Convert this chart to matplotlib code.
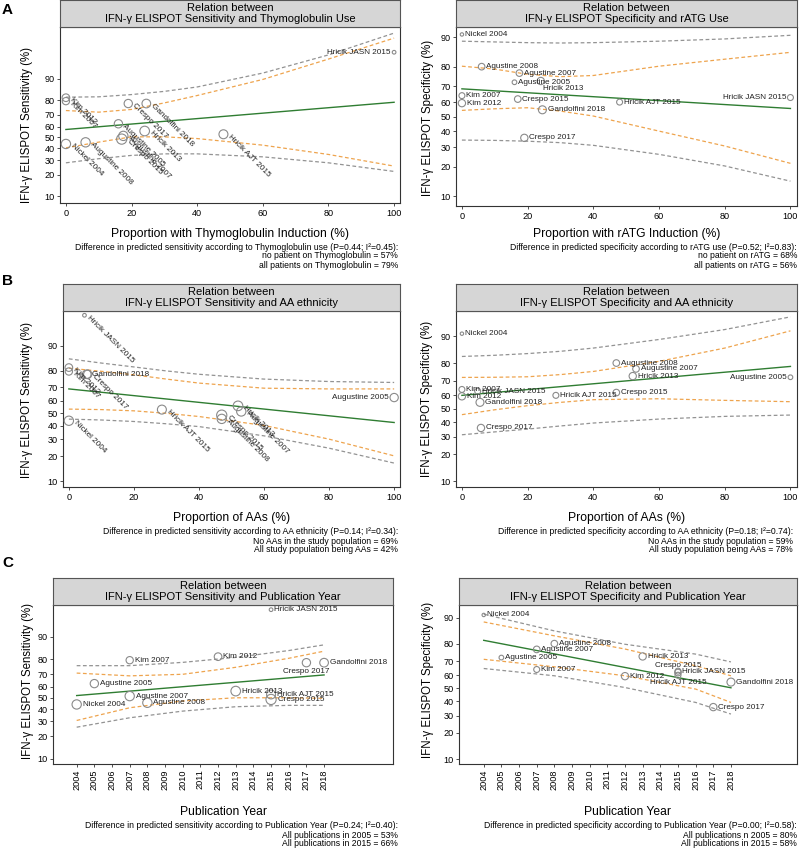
import numpy as np
import matplotlib.pyplot as plt

plt.rcParams['font.family'] = ['Liberation Sans', 'DejaVu Sans']

W, H = 800, 849

# study level data
studies = ['Nickel 2004', 'Augustine 2005', 'Kim 2007', 'Augustine 2007', 'Augustine 2008',
           'Kim 2012', 'Hricik 2013', 'Crespo 2015', 'Hricik JASN 2015', 'Hricik AJT 2015',
           'Crespo 2017', 'Gandolfini 2018']
years = [2004, 2005, 2007, 2007, 2008, 2012, 2013, 2015, 2015, 2015, 2017, 2018]
thymo_pct = [0, 16, 0, 17.5, 6, 0, 24, 17, 100, 48, 19, 24.5]
aa_pct = [0, 100, 0, 53, 47, 0, 52, 47, 4.8, 28.6, 5.8, 5.5]
sens = [44, 62.5, 79.5, 51.5, 45.5, 81.5, 56, 48.5, 96, 53, 78, 78]
spec = [90.7, 72.2, 64.2, 77, 80, 59.3, 72.9, 62, 63, 60, 35.8, 54.8]
sens_weight = [8.3, 6.6, 5.1, 8.3, 8.3, 5.6, 8.9, 10, 1.3, 7.7, 6.6, 7.2]
spec_weight = [1.1, 2.1, 3.4, 4.2, 4.2, 5.1, 5.1, 4.2, 3.4, 3.4, 5.1, 6.1]

# meta-regression fits, 95% CI (orange) and prediction interval (gray), in %
prop_x = [0, 10, 20, 30, 40, 60, 80, 100]
year_x = [2004, 2007, 2010, 2013, 2016, 2018]
year_x2 = [2004, 2008, 2012, 2016, 2018]

a1_fit = [57.4, 78.8]
a1_ci_hi = [73.2, 72.0, 74.0, 78.4, 82.7, 89.7, 94.9, 97.6]
a1_ci_lo = [40.5, 45.7, 50.6, 50.6, 49.0, 42.9, 34.7, 25.6]
a1_pi_hi = [81.8, 82.0, 83.2, 84.8, 86.8, 91.7, 95.6, 98.0]
a1_pi_lo = [28.0, 31.2, 33.9, 35.2, 35.2, 32.7, 28.0, 22.0]

a2_fit = [68.4, 55.7]
a2_ci_hi = [80.2, 78.9, 76.4, 75.2, 75.8, 80.2, 83.1, 85.6]
a2_ci_lo = [54.4, 55.5, 56.2, 53.9, 50.5, 40.2, 30.8, 21.6]
a2_pi_hi = [89.0, 88.8, 88.6, 88.5, 88.6, 89.0, 89.6, 90.5]
a2_pi_lo = [34.4, 34.2, 33.7, 32.8, 31.2, 26.1, 20.4, 14.4]

b1_fit = [68.8, 42.6]
b1_ci_hi = [81.2, 79.6, 77.7, 75.2, 72.7, 69.3, 68.8, 68.8]
b1_ci_lo = [53.4, 53.0, 52.0, 50.0, 47.4, 40.3, 30.2, 20.1]
b1_pi_hi = [85.4, 83.6, 81.8, 79.8, 78.0, 75.2, 73.7, 73.1]
b1_pi_lo = [45.3, 44.6, 43.4, 41.6, 39.4, 32.5, 24.4, 16.6]

b2_fit = [60.0, 78.3]
b2_ci_hi = [72.1, 72.2, 72.5, 73.8, 75.6, 80.8, 86.3, 91.4]
b2_ci_lo = [45.5, 49.2, 52.3, 54.8, 56.8, 57.5, 56.3, 55.3]
b2_pi_hi = [83.0, 83.5, 84.2, 85.1, 86.3, 89.1, 91.7, 94.2]
b2_pi_lo = [31.2, 33.1, 35.0, 37.2, 39.3, 42.2, 44.2, 45.2]

c1_fit = [52.0, 69.5]
c1_ci_hi = [70.9, 68.8, 70.0, 75.0, 80.6, 84.3]
c1_ci_lo = [30.6, 41.1, 47.1, 50.0, 50.0, 49.5]
c1_pi_hi = [76.1, 76.1, 78.2, 81.1, 84.6, 87.1]
c1_pi_lo = [25.7, 32.7, 38.2, 42.0, 43.2, 43.2]

c2_fit = [81.6, 50.4]
c2_ci_hi = [88.7, 83.6, 77.2, 66.8, 59.6]
c2_ci_lo = [71.1, 66.1, 59.6, 49.4, 39.2]
c2_pi_hi = [90.9, 85.6, 79.7, 74.3, 69.4]
c2_pi_lo = [64.9, 59.6, 50.6, 39.2, 31.0]

GREEN = '#2f7d32'
ORANGE = '#eea44e'
GRAY = '#939393'
MARK = '#8a8a8a'


def frac_box(x0, y0, x1, y1):
  return [x0 / W, 1 - y1 / H, (x1 - x0) / W, (y1 - y0) / H]


def panel(fig, p):
  x0, y0, x1, y1 = p['box']
  ax = fig.add_axes(frac_box(x0, y0, x1, y1))
  st = fig.add_axes(frac_box(x0, p['strip'], x1, y0))
  st.set_facecolor('#d6d6d6')
  st.set_xticks([]); st.set_yticks([])
  for s in st.spines.values():
    s.set_color('#555555'); s.set_linewidth(0.8)
  st.text(0.5, 0.5, p['title'], ha='center', va='center', fontsize=8.0,
          linespacing=1.05, transform=st.transAxes)

  ax.set_yscale('logit')
  bx = p['bx']
  ax.plot(bx, np.array(p['pi'][0]) / 100, color=GRAY, lw=0.9, ls=(0, (3, 2)))
  ax.plot(bx, np.array(p['pi'][1]) / 100, color=GRAY, lw=0.9, ls=(0, (3, 2)))
  ax.plot(bx, np.array(p['ci'][0]) / 100, color=ORANGE, lw=0.9, ls=(0, (3, 2)))
  ax.plot(bx, np.array(p['ci'][1]) / 100, color=ORANGE, lw=0.9, ls=(0, (3, 2)))
  ax.plot([bx[0], bx[-1]], np.array(p['fit']) / 100, color=GREEN, lw=1.0)

  xs, ys, ws = p['x'], np.array(p['y']) / 100, np.array(p['w'])
  sizes = 5.4 * ws
  ax.scatter(xs, ys, s=sizes, facecolors='none', edgecolors=MARK, linewidths=0.8, zorder=3)

  for name, xv, yv, s in zip(studies, xs, ys, sizes):
    label = name.replace('Augustine', p['spell'])
    r = np.sqrt(s) / 2
    pos = p['pos'].get(name, 3)
    kw = dict(fontsize=5.9, color='#222222', textcoords='offset points')
    if pos == 9:
      ax.annotate(label, (xv, yv), xytext=(-r - 1, 0), ha='right', va='center', **kw)
    elif pos == 6:
      ax.annotate(label, (xv, yv), xytext=(0, -r - 0.5), ha='center', va='top', **kw)
    elif pos == 12:
      ax.annotate(label, (xv, yv), xytext=(0, r + 0.5), ha='center', va='bottom', **kw)
    elif pos == 4:
      ax.annotate(label, (xv, yv), xytext=(r * 0.6, -r - 0.5), ha='left', va='top', **kw)
    elif p['tilt'] and pos != 'h':
      ax.annotate(label, (xv, yv), xytext=(r + 1, -1), ha='left', va='center',
                  rotation=-45, rotation_mode='anchor', **kw)
    else:
      ax.annotate(label, (xv, yv), xytext=(r + 1, 0), ha='left', va='center', **kw)

  ax.set_ylim(*p['ylim'])
  ax.set_xlim(*p['xlim'])
  yt = np.arange(10, 100, 10)
  ax.set_yticks(yt / 100)
  ax.set_yticklabels([str(v) for v in yt])
  ax.yaxis.set_minor_locator(plt.NullLocator())
  ax.set_xticks(p['xt'])
  if p['xt'][0] > 1000:
    ax.set_xticklabels([str(v) for v in p['xt']], rotation=90)
  else:
    ax.set_xticklabels([str(v) for v in p['xt']])
  ax.tick_params(length=2.5, width=0.6, pad=1.5, labelsize=6.6, color='#333333')
  for s in ax.spines.values():
    s.set_color('#333333'); s.set_linewidth(0.8)

  fig.text(p['ylab'][0] / W, 1 - p['ylab'][1] / H, p['ylabel'], rotation=90,
           ha='center', va='center', fontsize=8.3)
  fig.text((x0 + x1) / 2 / W, 1 - p['xlab'] / H, p['xlabel'], ha='center', va='center',
           fontsize=8.7)
  for line, ny in zip(p['notes'], p['note_y']):
    fig.text(p['note_x'] / W, 1 - ny / H, line, ha='right', va='center', fontsize=6.2)


fig = plt.figure(figsize=(W / 100, H / 100), dpi=100)

prop_ticks = [0, 20, 40, 60, 80, 100]
year_ticks = list(range(2004, 2019))
sens_lab = 'IFN-γ ELISPOT Sensitivity (%)'
spec_lab = 'IFN-γ ELISPOT Specificity (%)'

panels = [
  dict(box=(60, 27, 400, 203), strip=0, x=thymo_pct, y=sens, w=sens_weight,
       title='Relation between\nIFN-γ ELISPOT Sensitivity and Thymoglobulin Use',
       ylabel=sens_lab, ylab=(27, 125), xlabel='Proportion with Thymoglobulin Induction (%)', xlab=234,
       notes=['Difference in predicted sensitivity according to Thymoglobulin use (P=0.44; I²=0.45):',
              'no patient on Thymoglobulin = 57%', 'all patients on Thymoglobulin = 79%'],
       note_x=398, note_y=[247, 256, 265], ylim=(0.080, 0.984), xlim=(-1.8, 101.8), xt=prop_ticks,
       bx=prop_x, fit=a1_fit, ci=(a1_ci_hi, a1_ci_lo), pi=(a1_pi_hi, a1_pi_lo),
       tilt=True, pos={'Hricik JASN 2015': 9}, spell='Augustine'),
  dict(box=(456, 27, 797, 206), strip=0, x=thymo_pct, y=spec, w=spec_weight,
       title='Relation between\nIFN-γ ELISPOT Specificity and rATG Use',
       ylabel=spec_lab, ylab=(428, 118), xlabel='Proportion with rATG Induction (%)', xlab=234,
       notes=['Difference in predicted specificity according to rATG use (P=0.52; I²=0.83):',
              'no patient on rATG = 68%', 'all patients on rATG = 56%'],
       note_x=797, note_y=[247, 256, 265], ylim=(0.078, 0.923), xlim=(-1.8, 102), xt=prop_ticks,
       bx=prop_x, fit=a2_fit, ci=(a2_ci_hi, a2_ci_lo), pi=(a2_pi_hi, a2_pi_lo),
       tilt=False, pos={'Hricik JASN 2015': 9, 'Hricik 2013': 4}, spell='Agustine'),
  dict(box=(63, 311, 400, 487), strip=284, x=aa_pct, y=sens, w=sens_weight,
       title='Relation between\nIFN-γ ELISPOT Sensitivity and AA ethnicity',
       ylabel=sens_lab, ylab=(27, 400), xlabel='Proportion of AAs (%)', xlab=518,
       notes=['Difference in predicted sensitivity according to AA ethnicity (P=0.14; I²=0.34):',
              'No AAs in the study population = 69%', 'All study population being AAs = 42%'],
       note_x=398, note_y=[532, 541, 550], ylim=(0.084, 0.965), xlim=(-1.8, 101.8), xt=prop_ticks,
       bx=prop_x, fit=b1_fit, ci=(b1_ci_hi, b1_ci_lo), pi=(b1_pi_hi, b1_pi_lo),
       tilt=True, pos={'Augustine 2005': 9, 'Gandolfini 2018': 'h'}, spell='Augustine'),
  dict(box=(456, 311, 797, 487), strip=284, x=aa_pct, y=spec, w=spec_weight,
       title='Relation between\nIFN-γ ELISPOT Specificity and AA ethnicity',
       ylabel=spec_lab, ylab=(427, 399), xlabel='Proportion of AAs (%)', xlab=518,
       notes=['Difference in predicted specificity according to AA ethnicity (P=0.18; I²=0.74):',
              'No AAs in the study population = 59%', 'All study population being AAs = 78%'],
       note_x=793, note_y=[532, 541, 550], ylim=(0.085, 0.951), xlim=(-1.8, 102), xt=prop_ticks,
       bx=prop_x, fit=b2_fit, ci=(b2_ci_hi, b2_ci_lo), pi=(b2_pi_hi, b2_pi_lo),
       tilt=False, pos={'Augustine 2005': 9}, spell='Augustine'),
  dict(box=(53, 605, 393, 764), strip=578, x=years, y=sens, w=sens_weight,
       title='Relation between\nIFN-γ ELISPOT Sensitivity and Publication Year',
       ylabel=sens_lab, ylab=(28, 681), xlabel='Publication Year', xlab=812,
       notes=['Difference in predicted sensitivity according to Publication Year (P=0.24; I²=0.40):',
              'All publications in 2005 = 53%', 'All publications in 2015 = 66%'],
       note_x=398, note_y=[826, 835, 843], ylim=(0.084, 0.966), xlim=(2002.66, 2021.9), xt=year_ticks,
       bx=year_x, fit=c1_fit, ci=(c1_ci_hi, c1_ci_lo), pi=(c1_pi_hi, c1_pi_lo),
       tilt=False, pos={'Crespo 2017': 6}, spell='Agustine'),
  dict(box=(459, 605, 797, 764), strip=578, x=years, y=spec, w=spec_weight,
       title='Relation between\nIFN-γ ELISPOT Specificity and Publication Year',
       ylabel=spec_lab, ylab=(428, 680), xlabel='Publication Year', xlab=812,
       notes=['Difference in predicted specificity according to Publication Year (P=0.00; I²=0.58):',
              'All publications n 2005 = 80%', 'All publications in 2015 = 58%'],
       note_x=797, note_y=[826, 835, 843], ylim=(0.087, 0.93), xlim=(2002.6, 2021.74), xt=year_ticks,
       bx=year_x2, fit=c2_fit, ci=(c2_ci_hi, c2_ci_lo), pi=(c2_pi_hi, c2_pi_lo),
       tilt=False, pos={'Crespo 2015': 12, 'Hricik AJT 2015': 6}, spell='Agustine'),
]

for p in panels:
  panel(fig, p)

for letter, ly in [('A', 10), ('B', 281), ('C', 563)]:
  fig.text(2 / W, 1 - ly / H, letter, ha='left', va='center', fontsize=11, fontweight='bold')

fig.savefig('out.png', dpi=100)
